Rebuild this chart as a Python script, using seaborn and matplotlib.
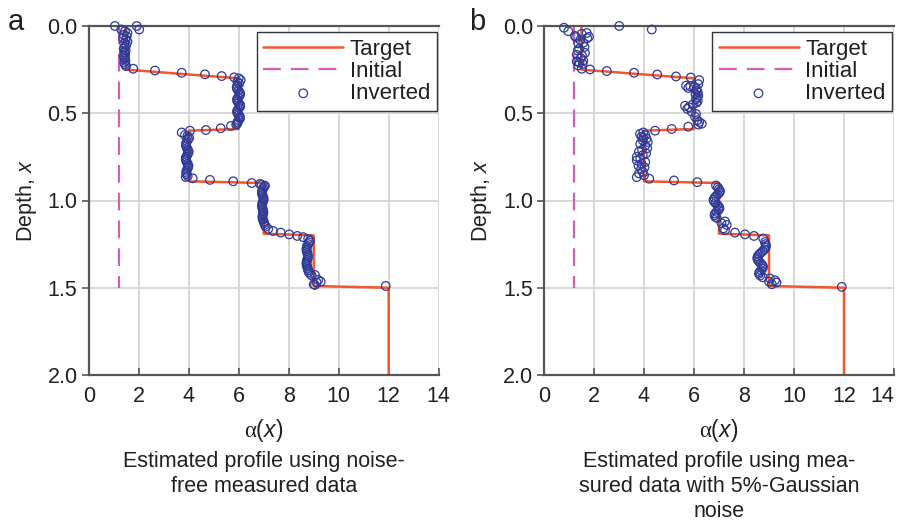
import matplotlib
matplotlib.use('Agg')
import matplotlib.pyplot as plt
import seaborn as sns

# ---------------- data ----------------
target_alpha = [1.5, 1.5, 6.0, 6.0, 4.0, 4.0, 7.0, 7.0, 9.0, 9.0, 12.0, 12.0]
target_depth = [0.0, 0.25, 0.30, 0.59, 0.60, 0.89, 0.90, 1.19, 1.20, 1.49, 1.50, 2.0]

initial_alpha = [1.2, 1.2]
initial_depth = [0.0, 1.5]

# panel a: inverted profile, noise-free data
a_alpha = [1.05, 1.92, 2.02, 1.30, 1.45, 1.55, 1.40, 1.52, 1.38, 1.48, 1.55, 1.42, 1.50, 1.45,
           1.40, 1.48, 1.42, 1.46, 1.40, 1.45, 1.43, 1.47, 1.42, 1.45, 1.50, 1.78,
           2.65, 3.72, 4.65, 5.32, 5.82, 6.00, 6.08, 5.95,
           6.02, 5.95, 5.92, 5.93, 5.98, 6.04, 6.06, 6.03, 5.97, 5.93, 5.94, 5.99, 6.05, 6.06,
           6.02, 5.96, 5.93, 5.95, 6.00, 6.05, 6.05, 6.00, 5.95, 5.94, 5.90,
           5.69, 5.28, 4.69, 4.05, 3.72, 3.85, 3.95,
           4.02, 3.98, 3.93, 3.90, 3.89, 3.90, 3.93, 3.97, 4.00, 3.98, 3.94, 3.90, 3.88, 3.89,
           3.92, 3.96, 3.99, 3.98, 3.94, 3.91, 3.90, 3.92, 3.96, 3.88,
           4.16, 4.85, 5.78, 6.52, 6.85, 6.92, 7.05,
           7.02, 6.98, 6.95, 6.93, 6.93, 6.95, 6.98, 7.00, 6.99, 6.96, 6.94, 6.93, 6.94, 6.96,
           6.98, 6.99, 6.97, 6.95, 6.95, 6.97, 7.00, 7.02, 7.05, 7.08,
           7.18, 7.38, 7.68, 8.02, 8.34, 8.58, 8.78, 8.85,
           8.82, 8.78, 8.74, 8.72, 8.71, 8.72, 8.74, 8.76, 8.77, 8.76, 8.74, 8.72, 8.71, 8.72,
           8.74, 8.76, 8.78, 8.80, 8.85, 8.92,
           9.05, 9.18, 9.28, 9.12, 9.00, 9.05, 11.88]
a_depth = [0.00, 0.00, 0.02, 0.02, 0.03, 0.04, 0.05, 0.06, 0.07, 0.08, 0.09, 0.10, 0.11, 0.12,
           0.13, 0.14, 0.15, 0.16, 0.17, 0.18, 0.19, 0.20, 0.21, 0.22, 0.23, 0.245,
           0.255, 0.268, 0.277, 0.287, 0.294, 0.300, 0.310, 0.320,
           0.33, 0.34, 0.35, 0.36, 0.37, 0.38, 0.39, 0.40, 0.41, 0.42, 0.43, 0.44, 0.45, 0.46,
           0.47, 0.48, 0.49, 0.50, 0.51, 0.52, 0.53, 0.54, 0.55, 0.56, 0.565,
           0.573, 0.586, 0.596, 0.600, 0.610, 0.625, 0.630,
           0.64, 0.65, 0.66, 0.67, 0.68, 0.69, 0.70, 0.71, 0.72, 0.73, 0.74, 0.75, 0.76, 0.77,
           0.78, 0.79, 0.80, 0.81, 0.82, 0.83, 0.84, 0.85, 0.86, 0.865,
           0.873, 0.882, 0.890, 0.900, 0.905, 0.910, 0.915,
           0.92, 0.93, 0.94, 0.95, 0.96, 0.97, 0.98, 0.99, 1.00, 1.01, 1.02, 1.03, 1.04, 1.05,
           1.06, 1.07, 1.08, 1.09, 1.10, 1.11, 1.12, 1.13, 1.14, 1.15,
           1.163, 1.175, 1.184, 1.194, 1.203, 1.210, 1.220, 1.230,
           1.24, 1.25, 1.26, 1.27, 1.28, 1.29, 1.30, 1.31, 1.32, 1.33, 1.34, 1.35, 1.36, 1.37,
           1.38, 1.39, 1.40, 1.41, 1.42, 1.43,
           1.427, 1.455, 1.465, 1.470, 1.480, 1.484, 1.490]

# panel b: inverted profile, data with 5% Gaussian noise
b_alpha = [0.80, 0.97, 3.01, 4.31,
           1.28, 1.51, 1.71, 1.73, 1.80, 1.24, 1.45, 1.37, 1.57, 1.62, 1.41, 1.35, 1.64, 1.31,
           1.52, 1.47, 1.57, 1.31, 1.42, 1.55, 1.37, 1.51,
           1.84, 2.51, 3.60, 4.53, 5.28, 5.87, 6.21, 6.17,
           5.68, 5.85, 6.00, 5.77, 6.10, 6.10, 6.15, 6.06, 6.17, 6.12, 6.08, 6.15, 6.10, 5.95,
           5.64, 5.80, 5.73, 5.90, 6.08, 6.04, 6.13, 6.21, 6.31, 6.17,
           5.77, 5.11, 4.44, 3.97, 3.84, 3.97,
           4.05, 3.90, 4.10, 3.95, 4.15, 3.85, 4.05, 4.13, 3.92, 3.80, 4.08, 3.95, 3.71, 3.85,
           3.71, 4.05, 3.90, 3.78, 4.02, 3.88, 3.95, 3.80, 4.00, 3.71,
           4.21, 5.20, 6.13, 6.88,
           6.95, 7.00, 7.04, 7.02, 6.95, 6.88, 6.82, 6.78, 6.80, 6.86, 6.93, 6.99, 7.02, 6.98,
           6.90, 6.84, 6.82, 6.86, 6.91,
           7.24, 7.10, 7.31, 7.17, 7.24, 7.64, 8.04, 8.40, 8.77, 8.84,
           8.86, 8.88, 8.86, 8.82, 8.75, 8.67, 8.60, 8.55, 8.53, 8.55, 8.60, 8.67, 8.73, 8.76,
           8.74, 8.68, 8.62, 8.60, 8.65, 8.75,
           9.04, 9.00, 9.24, 9.30, 9.11, 11.91]
b_depth = [0.010, 0.030, 0.000, 0.020,
           0.064, 0.045, 0.040, 0.070, 0.062, 0.057, 0.080, 0.100, 0.097, 0.120, 0.130, 0.140,
           0.154, 0.165, 0.170, 0.184, 0.198, 0.203, 0.210, 0.217, 0.226, 0.245,
           0.249, 0.258, 0.268, 0.278, 0.289, 0.295, 0.310, 0.333,
           0.342, 0.345, 0.350, 0.355, 0.360, 0.370, 0.380, 0.390, 0.400, 0.410, 0.420, 0.430,
           0.440, 0.450,
           0.457, 0.465, 0.475, 0.490, 0.504, 0.520, 0.540, 0.550, 0.560, 0.565,
           0.577, 0.590, 0.600, 0.610, 0.618, 0.640,
           0.625, 0.635, 0.645, 0.655, 0.665, 0.675, 0.685, 0.700, 0.710, 0.720, 0.730, 0.740,
           0.750, 0.760, 0.770, 0.780, 0.790, 0.800, 0.810, 0.820, 0.835, 0.845, 0.855, 0.866,
           0.875, 0.885, 0.895, 0.914,
           0.925, 0.935, 0.945, 0.955, 0.965, 0.975, 0.985, 0.995, 1.005, 1.015, 1.025, 1.035,
           1.045, 1.055, 1.065, 1.075, 1.085, 1.095, 1.100,
           1.120, 1.130, 1.140, 1.160, 1.170, 1.184, 1.194, 1.203, 1.218, 1.238,
           1.25, 1.26, 1.27, 1.28, 1.29, 1.30, 1.31, 1.32, 1.33, 1.34, 1.35, 1.36, 1.37, 1.38,
           1.39, 1.40, 1.41, 1.42, 1.43, 1.44,
           1.447, 1.465, 1.457, 1.470, 1.480, 1.495]

x_ticks = [0, 2, 4, 6, 8, 10, 12, 14]
y_ticks = [0.0, 0.5, 1.0, 1.5, 2.0]
y_ticklabels = ['0.0', '0.5', '1.0', '1.5', '2.0']
captions = ['Estimated profile using noise-\nfree measured data',
            'Estimated profile using mea-\nsured data with 5%-Gaussian\nnoise']
panel_letters = ['a', 'b']

# ---------------- style ----------------
sns.set_theme(style='white')
plt.rcParams['font.family'] = ['Liberation Sans', 'DejaVu Sans']
plt.rcParams['mathtext.fontset'] = 'custom'
plt.rcParams['mathtext.rm'] = 'Liberation Serif'
plt.rcParams['mathtext.it'] = 'Liberation Sans:italic'

TXT = '#231f20'
C_TARGET = '#f8542a'
C_INIT = '#d35fb0'
C_INV = '#2e3a97'
FS = 15.5

fig = plt.figure(figsize=(9.04, 5.24), dpi=100)
ax_a = fig.add_axes([88.7 / 904, 1 - 375 / 524, 350 / 904, 349 / 524])
ax_b = fig.add_axes([544 / 904, 1 - 375 / 524, 350 / 904, 349 / 524])

panels = [(ax_a, a_alpha, a_depth), (ax_b, b_alpha, b_depth)]
for i, (ax, inv_a, inv_d) in enumerate(panels):
    sns.lineplot(x=target_alpha, y=target_depth, sort=False, estimator=None,
                 color=C_TARGET, lw=1.8, ax=ax, label='Target', zorder=2)
    sns.lineplot(x=initial_alpha, y=initial_depth, sort=False, estimator=None,
                 color=C_INIT, lw=1.6, linestyle=(0, (8, 4.5)), ax=ax, label='Initial', zorder=2)
    sns.scatterplot(x=inv_a, y=inv_d, marker='o', s=38, facecolors='none',
                    edgecolor=C_INV, linewidth=0.9, ax=ax, label='Inverted', zorder=3,
                    clip_on=False)

    ax.set_xlim(0, 14)
    ax.set_ylim(2.0, 0.0)
    ax.set_xticks(x_ticks)
    ax.set_xticklabels([str(t) for t in x_ticks])
    ax.set_yticks(y_ticks)
    ax.set_yticklabels(y_ticklabels)
    ax.set_axisbelow(True)
    ax.grid(True, color='#d6d6d6', lw=1.3)
    for side in ['left', 'bottom', 'top']:
        ax.spines[side].set_visible(True)
        ax.spines[side].set_color('#555555')
        ax.spines[side].set_linewidth(1.6)
    ax.spines['right'].set_visible(False)
    ax.tick_params(axis='x', direction='in', length=5, width=1.2, color='#555555',
                   labelsize=FS, labelcolor=TXT, pad=8, bottom=True)
    ax.tick_params(axis='y', direction='out', length=5, width=1.2, color='#555555',
                   labelsize=FS, labelcolor=TXT, pad=3, left=True)

    ax.set_xlabel(r'$\mathrm{α}$($\mathit{x}$)', fontsize=FS + 1, color=TXT, labelpad=7)
    ax.set_ylabel(r'Depth, $\mathit{x}$', fontsize=FS, color=TXT, labelpad=6)

    leg = ax.legend(loc='upper right', bbox_to_anchor=(0.995, 0.982), fontsize=FS + 0.5,
                    frameon=True, fancybox=False, edgecolor='#333333', framealpha=1,
                    handlelength=3.6, handletextpad=0.3, labelspacing=0.05,
                    borderpad=0.3, borderaxespad=0, labelcolor=TXT)
    leg.get_frame().set_linewidth(1.0)

    bb = ax.get_position()
    cx = (bb.x0 + bb.x1) / 2
    fig.text(cx, 1 - 451 / 524, captions[i], ha='center', va='top', fontsize=FS,
             color=TXT, linespacing=1.26)

# keep the last tick label of panel b inside the figure, as in the reference
ax_b.get_xticklabels()[-1].set_horizontalalignment('right')

fig.text(16 / 904, 1 - 22 / 524, panel_letters[0], ha='center', va='center',
         fontsize=21, color=TXT)
fig.text(477 / 904, 1 - 22 / 524, panel_letters[1], ha='center', va='center',
         fontsize=21, color=TXT)

fig.savefig('out.png', dpi=100)
